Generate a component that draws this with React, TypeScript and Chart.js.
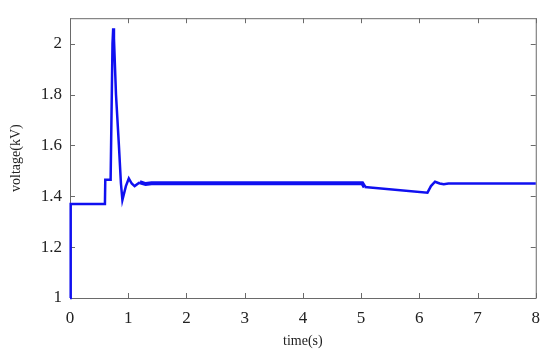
import React, { useEffect, useRef } from "react";
import { Chart, registerables } from "chart.js";

Chart.register(...registerables);

const times = [0, 0.012, 0.6, 0.606, 0.69, 0.698, 0.73, 0.742, 0.755, 0.79, 0.84, 0.875, 0.9, 0.96, 1.01, 1.06, 1.11, 1.2, 1.3, 1.4, 5.02, 5.06, 6.14, 6.2, 6.27, 6.35, 6.42, 6.5, 8];
const voltages = [1.0, 1.37, 1.37, 1.465, 1.465, 1.47, 2.0, 2.06, 2.02, 1.8, 1.6, 1.45, 1.385, 1.44, 1.47, 1.45, 1.44, 1.455, 1.448, 1.451, 1.451, 1.436, 1.414, 1.44, 1.457, 1.45, 1.447, 1.45, 1.45];
const xTicks = [0, 1, 2, 3, 4, 5, 6, 7, 8];
const yTicks = [1, 1.2, 1.4, 1.6, 1.8, 2];

const AXIS_COLOR = "#6a6a6a";

const boxPlugin = {
  id: "matlabBox",
  beforeDatasetsDraw(chart: any) {
    const { ctx, chartArea: a, scales } = chart;
    ctx.save();
    ctx.strokeStyle = AXIS_COLOR;
    ctx.lineWidth = 1;
    ctx.beginPath();
    ctx.rect(a.left + 0.5, a.top + 0.5, a.right - a.left, a.bottom - a.top);
    const L = 5;
    for (const t of xTicks) {
      const px = Math.round(scales.x.getPixelForValue(t)) + 0.5;
      ctx.moveTo(px, a.bottom);
      ctx.lineTo(px, a.bottom - L);
      ctx.moveTo(px, a.top);
      ctx.lineTo(px, a.top + L);
    }
    for (const t of yTicks) {
      const py = Math.round(scales.y.getPixelForValue(t)) + 0.5;
      ctx.moveTo(a.left, py);
      ctx.lineTo(a.left + L, py);
      ctx.moveTo(a.right, py);
      ctx.lineTo(a.right - L, py);
    }
    ctx.stroke();
    ctx.restore();
  },
};

export default function App() {
  const ref = useRef<HTMLCanvasElement>(null);
  useEffect(() => {
    document.body.style.margin = "0";
    const data = times.map((t, i) => ({ x: t, y: voltages[i] }));
    const chart = new Chart(ref.current!, {
      type: "line",
      data: {
        datasets: [
          {
            data,
            borderColor: "#1010f0",
            borderWidth: 2.5,
            pointRadius: 0,
            tension: 0,
            clip: false,
            segment: {
              borderWidth: (c: any) =>
                c.p0.parsed.x >= 1.15 && c.p1.parsed.x <= 5.1 ? 4 : 2.5,
            },
          },
        ],
      },
      options: {
        animation: false,
        responsive: false,
        maintainAspectRatio: false,
        layout: { padding: { top: 8, right: 11, left: 0, bottom: 0 } },
        plugins: { legend: { display: false }, tooltip: { enabled: false } },
        scales: {
          x: {
            type: "linear",
            min: 0,
            max: 8,
            afterBuildTicks: (s: any) => {
              s.ticks = xTicks.map((v) => ({ value: v }));
            },
            afterFit: (s: any) => {
              s.height = 52;
            },
            grid: { display: false, drawTicks: false },
            border: { display: false },
            ticks: {
              color: "#222",
              padding: 10,
              font: { family: "Liberation Serif", size: 17 },
              callback: (v: any) => String(v),
            },
            title: {
              display: true,
              text: "time(s)",
              color: "#222",
              font: { family: "Liberation Serif", size: 14 },
              padding: { top: -10, bottom: 0 },
            },
          },
          y: {
            type: "linear",
            min: 1,
            max: 2.1,
            afterBuildTicks: (s: any) => {
              s.ticks = yTicks.map((v) => ({ value: v }));
            },
            afterFit: (s: any) => {
              s.width = 70;
            },
            grid: { display: false, drawTicks: false },
            border: { display: false },
            ticks: {
              color: "#222",
              padding: 8,
              font: { family: "Liberation Serif", size: 17 },
              callback: (v: any) => String(v),
            },
            title: {
              display: true,
              text: "voltage(kV)",
              color: "#222",
              font: { family: "Liberation Serif", size: 14 },
              padding: { top: 8, bottom: 2 },
            },
          },
        },
      },
      plugins: [boxPlugin],
    });
    return () => chart.destroy();
  }, []);
  return (
    <div style={{ width: 550, height: 350, background: "#fff" }}>
      <canvas ref={ref} width={550} height={350} style={{ display: "block" }} />
    </div>
  );
}
